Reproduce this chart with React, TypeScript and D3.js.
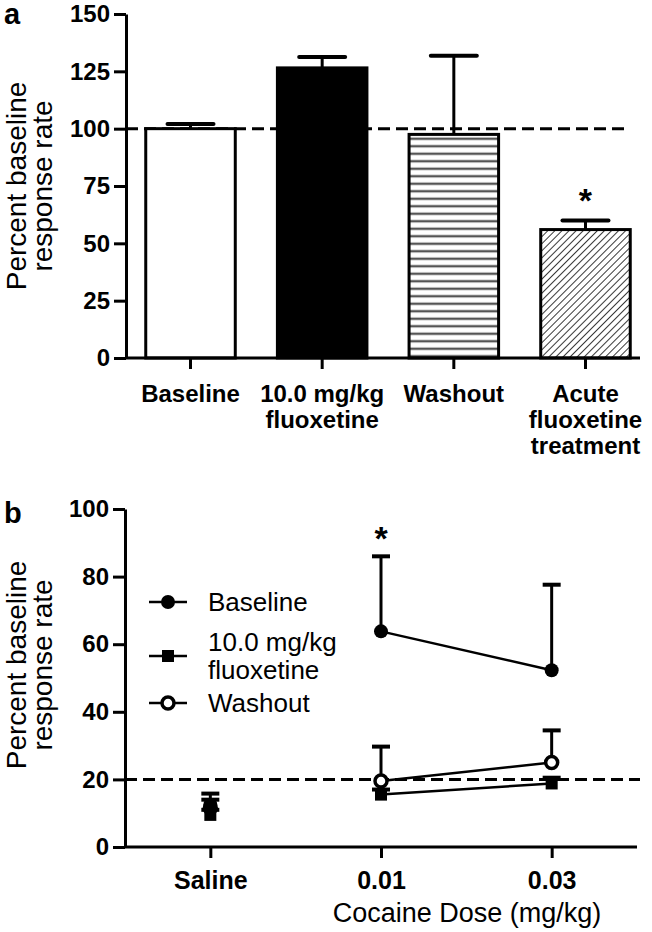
import * as d3 from 'd3';
import { useEffect, useRef } from 'react';

// panel a: bar chart
const barKeys = ["baseline", "fluoxetine", "washout", "acute"];
const barLabels = [["Baseline"], ["10.0 mg/kg", "fluoxetine"], ["Washout"], ["Acute", "fluoxetine", "treatment"]];
const barMeans = [100, 126.5, 97.5, 56];
const barErrTop = [102, 131.2, 131.8, 60];
const barSig = [false, false, false, true];
const barTicks = [0, 25, 50, 75, 100, 125, 150];

// panel b: dose response
const doses = ["Saline", "0.01", "0.03"];
const baselineMeans = [12.5, 63.8, 52.3];
const baselineErr = [15.8, 86, 77.6];
const fluoxMeans = [9.5, 15.5, 18.8];
const fluoxErr = [11, 17, 20.5];
const washoutMeans = [11.5, 19.5, 25];
const washoutErr = [14, 29.7, 34.5];
const baselineSig = [false, true, false];
const lineTicks = [0, 20, 40, 60, 80, 100];

const FONT = "'Liberation Sans', Arial, Helvetica, sans-serif";

export default function App() {
    const ref = useRef<SVGSVGElement>(null);

    useEffect(() => {
        const svg = d3.select(ref.current);
        svg.selectAll("*").remove();

        const defs = svg.append("defs");
        const hp = defs.append("pattern").attr("id", "hstripe")
            .attr("patternUnits", "userSpaceOnUse").attr("width", 10).attr("height", 7.5);
        hp.append("rect").attr("width", 10).attr("height", 7.5).attr("fill", "#fff");
        hp.append("line").attr("x1", 0).attr("x2", 10).attr("y1", 3.75).attr("y2", 3.75)
            .attr("stroke", "#555").attr("stroke-width", 2.4);
        const dp = defs.append("pattern").attr("id", "diag")
            .attr("patternUnits", "userSpaceOnUse").attr("width", 5).attr("height", 5)
            .attr("patternTransform", "rotate(45)");
        dp.append("rect").attr("width", 5).attr("height", 5).attr("fill", "#fff");
        dp.append("line").attr("x1", 0).attr("x2", 0).attr("y1", 0).attr("y2", 5)
            .attr("stroke", "#222").attr("stroke-width", 1.8);

        const styleAxis = (g: any, size: number) => {
            g.selectAll("path, line").attr("stroke", "#000").attr("stroke-width", 3);
            g.selectAll("text").attr("fill", "#000").style("font-family", FONT)
                .style("font-size", `${size}px`).style("font-weight", "bold");
        };

        const yTitle = (cy: number) => {
            const t = svg.append("g").attr("transform", `translate(0,${cy}) rotate(-90)`)
                .style("font-family", FONT).style("font-size", "28px").attr("text-anchor", "middle");
            t.append("text").attr("x", 0).attr("y", 26).text("Percent baseline");
            t.append("text").attr("x", 0).attr("y", 52).text("response rate");
        };

        // ---------- Panel a ----------
        const xa = d3.scaleBand<string>().domain(barKeys).range([126, 650]).paddingInner(0.32).paddingOuter(0.15);
        const ya = d3.scaleLinear().domain([0, 150]).range([358, 14]);
        const fills: Record<string, string> = {
            baseline: "#fff", fluoxetine: "#000", washout: "url(#hstripe)", acute: "url(#diag)"
        };

        svg.append("line")
            .attr("x1", 126).attr("x2", 630).attr("y1", ya(100)).attr("y2", ya(100))
            .attr("stroke", "#000").attr("stroke-width", 3).attr("stroke-dasharray", "12,6");

        const pa = svg.append("g");
        barKeys.forEach((k, i) => {
            const cx = xa(k)! + xa.bandwidth() / 2;
            pa.append("line").attr("x1", cx).attr("x2", cx)
                .attr("y1", ya(barMeans[i])).attr("y2", ya(barErrTop[i]))
                .attr("stroke", "#000").attr("stroke-width", 3);
            pa.append("line").attr("x1", cx - 23).attr("x2", cx + 23)
                .attr("y1", ya(barErrTop[i])).attr("y2", ya(barErrTop[i]))
                .attr("stroke", "#000").attr("stroke-width", 4).attr("stroke-linecap", "round");
            pa.append("rect")
                .attr("x", xa(k)!).attr("y", ya(barMeans[i]))
                .attr("width", xa.bandwidth()).attr("height", ya(0) - ya(barMeans[i]))
                .attr("fill", fills[k]).attr("stroke", "#000").attr("stroke-width", 3);
            if (barSig[i]) {
                pa.append("text").attr("x", cx).attr("y", ya(barErrTop[i]) - 8)
                    .attr("text-anchor", "middle").style("font-family", FONT)
                    .style("font-size", "34px").style("font-weight", "bold").text("*");
            }
        });

        const ayA = svg.append("g").attr("transform", "translate(126,0)")
            .call(d3.axisLeft(ya).tickValues(barTicks).tickSize(12).tickSizeOuter(0).tickPadding(4));
        styleAxis(ayA, 24);

        const axA = svg.append("g").attr("transform", `translate(0,${ya(0)})`)
            .call(d3.axisBottom(xa).tickSize(11).tickSizeOuter(0).tickFormat(() => ""));
        axA.select(".domain").remove();
        styleAxis(axA, 24);
        axA.append("line").attr("x1", 126).attr("x2", 640).attr("y1", 0).attr("y2", 0)
            .attr("stroke", "#000").attr("stroke-width", 3);

        barKeys.forEach((k, i) => {
            const cx = xa(k)! + xa.bandwidth() / 2;
            const t = svg.append("text").attr("text-anchor", "middle").style("font-family", FONT)
                .style("font-size", "24px").style("font-weight", "bold");
            barLabels[i].forEach((ln, j) => {
                t.append("tspan").attr("x", cx).attr("y", 402 + j * 26).text(ln);
            });
        });

        svg.append("text").attr("x", 4).attr("y", 24).style("font-family", FONT)
            .style("font-size", "29px").style("font-weight", "bold").text("a");
        yTitle(186);

        // ---------- Panel b ----------
        const xb = d3.scalePoint<string>().domain(doses).range([125, 637]).padding(0.5);
        const yb = d3.scaleLinear().domain([0, 100]).range([847, 509]);

        svg.append("line")
            .attr("x1", 125).attr("x2", 640).attr("y1", yb(20)).attr("y2", yb(20))
            .attr("stroke", "#000").attr("stroke-width", 3).attr("stroke-dasharray", "12,6");

        const series = [
            { name: ["Washout"], means: washoutMeans, err: washoutErr, marker: "open" },
            { name: ["10.0 mg/kg", "fluoxetine"], means: fluoxMeans, err: fluoxErr, marker: "square" },
            { name: ["Baseline"], means: baselineMeans, err: baselineErr, marker: "circle" },
        ];

        const drawMarker = (g: any, type: string, x: number, y: number) => {
            if (type === "circle") {
                g.append("circle").attr("cx", x).attr("cy", y).attr("r", 7).attr("fill", "#000");
            } else if (type === "square") {
                g.append("rect").attr("x", x - 6).attr("y", y - 6).attr("width", 12).attr("height", 12).attr("fill", "#000");
            } else {
                g.append("circle").attr("cx", x).attr("cy", y).attr("r", 6)
                    .attr("fill", "#fff").attr("stroke", "#000").attr("stroke-width", 3.5);
            }
        };

        const pb = svg.append("g");
        series.forEach(s => {
            const ln = d3.line<number>().x(i => xb(doses[i])!).y(i => yb(s.means[i]));
            pb.append("path").attr("d", ln([1, 2])).attr("fill", "none")
                .attr("stroke", "#000").attr("stroke-width", 2.5);
        });
        series.forEach(s => {
            doses.forEach((d, i) => {
                const cx = xb(d)!;
                pb.append("line").attr("x1", cx).attr("x2", cx)
                    .attr("y1", yb(s.means[i])).attr("y2", yb(s.err[i]))
                    .attr("stroke", "#000").attr("stroke-width", 3);
                pb.append("line").attr("x1", cx - 9).attr("x2", cx + 9)
                    .attr("y1", yb(s.err[i])).attr("y2", yb(s.err[i]))
                    .attr("stroke", "#000").attr("stroke-width", 4);
            });
        });
        series.forEach(s => {
            doses.forEach((d, i) => drawMarker(pb, s.marker, xb(d)!, yb(s.means[i])));
        });

        doses.forEach((d, i) => {
            if (baselineSig[i]) {
                pb.append("text").attr("x", xb(d)!).attr("y", yb(baselineErr[i]) - 6)
                    .attr("text-anchor", "middle").style("font-family", FONT)
                    .style("font-size", "34px").style("font-weight", "bold").text("*");
            }
        });

        const ayB = svg.append("g").attr("transform", "translate(125,0)")
            .call(d3.axisLeft(yb).tickValues(lineTicks).tickSize(12).tickSizeOuter(0).tickPadding(4));
        styleAxis(ayB, 24);

        const axB = svg.append("g").attr("transform", `translate(0,${yb(0)})`)
            .call(d3.axisBottom(xb).tickSize(11).tickSizeOuter(0).tickPadding(13));
        axB.select(".domain").remove();
        styleAxis(axB, 25);
        axB.append("line").attr("x1", 125).attr("x2", 637).attr("y1", 0).attr("y2", 0)
            .attr("stroke", "#000").attr("stroke-width", 3);

        svg.append("text").attr("x", 467).attr("y", 922).attr("text-anchor", "middle")
            .style("font-family", FONT).style("font-size", "27px").text("Cocaine Dose (mg/kg)");

        svg.append("text").attr("x", 4).attr("y", 523).style("font-family", FONT)
            .style("font-size", "29px").style("font-weight", "bold").text("b");
        yTitle(665);

        // legend (Baseline, fluoxetine, Washout)
        const legendRows = [series[2], series[1], series[0]];
        const rowY = [602, 656, 703];
        const lg = svg.append("g");
        legendRows.forEach((s, r) => {
            const y = rowY[r];
            lg.append("line").attr("x1", 149).attr("x2", 187).attr("y1", y).attr("y2", y)
                .attr("stroke", "#000").attr("stroke-width", 2.5);
            drawMarker(lg, s.marker, 168, y);
            const t = lg.append("text").style("font-family", FONT).style("font-size", "26px");
            const n = s.name.length;
            s.name.forEach((ln, j) => {
                t.append("tspan").attr("x", 208).attr("y", y + 9 + (j - (n - 1) / 2) * 28).text(ln);
            });
        });
    }, []);

    return (
        <svg ref={ref} width={652} height={932}
            style={{ position: 'absolute', left: 0, top: 0, background: '#fff' }} />
    );
}
